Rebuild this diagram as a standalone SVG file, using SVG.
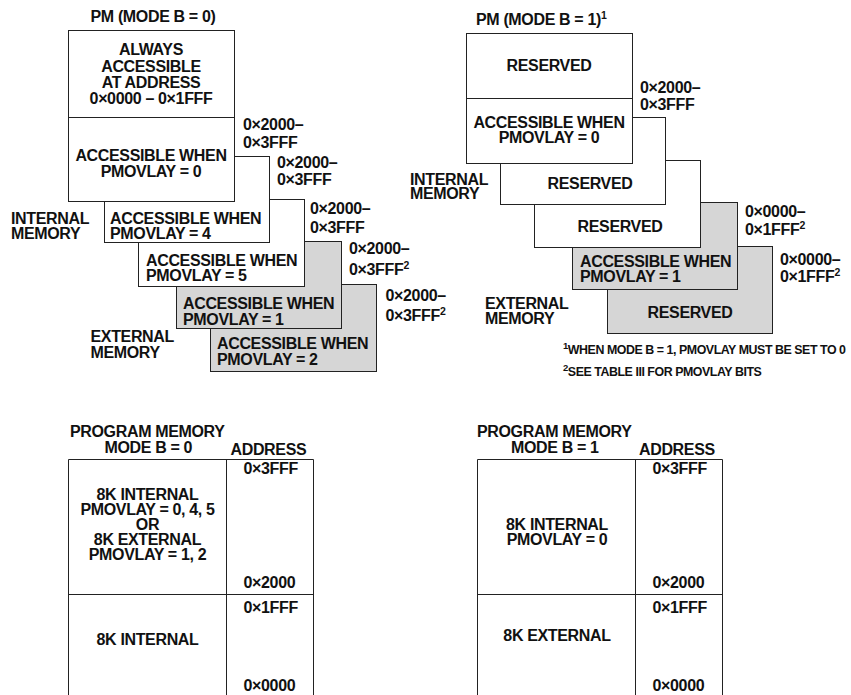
<svg xmlns="http://www.w3.org/2000/svg" width="851" height="695" viewBox="0 0 851 695">
<style>
text{font-family:"Liberation Sans",Arial,Helvetica,sans-serif;font-weight:bold;font-size:16px;letter-spacing:-0.35px;fill:#111}
.c{text-anchor:middle}
.fn{font-size:12.4px;letter-spacing:-0.45px}
.sup{font-size:10.5px}
.box{fill:#fff;stroke:#222;stroke-width:1}
.gray{fill:#d6d6d6;stroke:#222;stroke-width:1}
.ln{fill:none;stroke:#222;stroke-width:1}
</style>
<rect width="851" height="695" fill="#fff"/>

<!-- Left: PM (MODE B = 0) -->
<text class="c" x="153" y="21.5">PM (MODE B = 0)</text>
<g id="l5"><rect class="gray" x="210.5" y="284.5" width="166" height="87"/>
<text x="217" y="348.5">ACCESSIBLE WHEN</text><text x="217" y="364.5">PMOVLAY = 2</text></g>
<g id="l4"><rect class="gray" x="176.5" y="241.5" width="165" height="87"/>
<text x="183" y="309">ACCESSIBLE WHEN</text><text x="183" y="324.5">PMOVLAY = 1</text></g>
<g id="l3"><rect class="box" x="138.5" y="199.5" width="166" height="87"/>
<text x="146" y="266">ACCESSIBLE WHEN</text><text x="146" y="281">PMOVLAY = 5</text></g>
<g id="l2"><rect class="box" x="104.5" y="156.5" width="165" height="86"/>
<text x="110" y="223.5">ACCESSIBLE WHEN</text><text x="110" y="238.5">PMOVLAY = 4</text></g>
<g id="l1"><rect class="box" x="68.5" y="117.5" width="166" height="84"/>
<text class="c" x="151" y="161">ACCESSIBLE WHEN</text><text class="c" x="151" y="177">PMOVLAY = 0</text></g>
<g id="l0"><rect class="box" x="68.5" y="30.5" width="166" height="87"/>
<text class="c" x="151" y="55">ALWAYS</text><text class="c" x="151" y="71.5">ACCESSIBLE</text>
<text class="c" x="151" y="87.5">AT ADDRESS</text><text class="c" x="151" y="104">0×0000 – 0×1FFF</text></g>

<g id="l-labels">
<text x="243" y="130">0×2000–</text><text x="243" y="147.5">0×3FFF</text>
<text x="277" y="167.5">0×2000–</text><text x="277" y="185">0×3FFF</text>
<text x="310" y="213.5">0×2000–</text><text x="310" y="232.5">0×3FFF</text>
<text x="349" y="253.5">0×2000–</text><text x="349" y="274.5">0×3FFF<tspan class="sup" dy="-6">2</tspan></text>
<text x="385.5" y="301">0×2000–</text><text x="385.5" y="321">0×3FFF<tspan class="sup" dy="-6">2</tspan></text>
<text x="11" y="223.5">INTERNAL</text><text x="11" y="239">MEMORY</text>
<text x="90.5" y="341.5">EXTERNAL</text><text x="90.5" y="357.5">MEMORY</text>
</g>

<!-- Right: PM (MODE B = 1) -->
<text x="476" y="25">PM (MODE B = 1)<tspan class="sup" dy="-6">1</tspan></text>
<g id="r5"><rect class="gray" x="607.5" y="246.5" width="165" height="87"/>
<text class="c" x="690" y="317.5">RESERVED</text></g>
<g id="r4"><rect class="gray" x="572.5" y="202.5" width="165" height="87"/>
<text x="580" y="267">ACCESSIBLE WHEN</text><text x="580" y="282">PMOVLAY = 1</text></g>
<g id="r3"><rect class="box" x="534.5" y="160.5" width="166" height="87"/>
<text class="c" x="620" y="232">RESERVED</text></g>
<g id="r2"><rect class="box" x="500.5" y="117.5" width="165" height="87"/>
<text class="c" x="590" y="189">RESERVED</text></g>
<g id="r1"><rect class="box" x="466.5" y="98.5" width="166" height="65"/>
<text class="c" x="549" y="127.5">ACCESSIBLE WHEN</text><text class="c" x="549" y="143">PMOVLAY = 0</text></g>
<g id="r0"><rect class="box" x="466.5" y="33.5" width="166" height="65"/>
<text class="c" x="549" y="71">RESERVED</text></g>

<g id="r-labels">
<text x="640" y="92.5">0×2000–</text><text x="640" y="109.5">0×3FFF</text>
<text x="745" y="217">0×0000–</text><text x="745" y="235">0×1FFF<tspan class="sup" dy="-6">2</tspan></text>
<text x="780" y="265">0×0000–</text><text x="780" y="282">0×1FFF<tspan class="sup" dy="-6">2</tspan></text>
<text x="410" y="184.5">INTERNAL</text><text x="410" y="199">MEMORY</text>
<text x="485" y="308.5">EXTERNAL</text><text x="485" y="323.5">MEMORY</text>
<text class="fn" x="563" y="354"><tspan font-size="9.5" dy="-5">1</tspan><tspan dy="5">WHEN MODE B = 1, PMOVLAY MUST BE SET TO 0</tspan></text>
<text class="fn" x="563" y="375.5"><tspan font-size="9.5" dy="-5">2</tspan><tspan dy="5">SEE TABLE III FOR PMOVLAY  BITS</tspan></text>
</g>

<!-- Bottom-left table -->
<g id="tbl0">
<text x="70" y="436.5">PROGRAM MEMORY</text>
<text x="104.5" y="453">MODE B = 0</text>
<text x="230.5" y="454.5">ADDRESS</text>
<path class="ln" d="M68.5,700 V459.5 H313.5 V700 M226.5,459.5 V700 M68.5,594.5 H313.5"/>
<text x="243.5" y="473.5">0×3FFF</text>
<text x="243.5" y="587.5">0×2000</text>
<text x="243.5" y="612.5">0×1FFF</text>
<text x="243.5" y="690.5">0×0000</text>
<text class="c" x="147.5" y="500">8K INTERNAL</text>
<text class="c" x="147.5" y="515">PMOVLAY = 0, 4, 5</text>
<text class="c" x="147.5" y="530">OR</text>
<text class="c" x="147.5" y="545">8K EXTERNAL</text>
<text class="c" x="147.5" y="560">PMOVLAY = 1, 2</text>
<text class="c" x="147.5" y="645">8K INTERNAL</text>
</g>

<!-- Bottom-right table -->
<g id="tbl1">
<text x="477" y="436.5">PROGRAM MEMORY</text>
<text x="511" y="453">MODE B = 1</text>
<text x="639" y="454.5">ADDRESS</text>
<path class="ln" d="M477.5,700 V459.5 H722.5 V700 M635.5,459.5 V700 M477.5,594.5 H722.5"/>
<text x="652.5" y="473.5">0×3FFF</text>
<text x="652.5" y="587.5">0×2000</text>
<text x="652.5" y="612.5">0×1FFF</text>
<text x="652.5" y="690.5">0×0000</text>
<text class="c" x="557" y="530">8K INTERNAL</text>
<text class="c" x="557" y="545">PMOVLAY = 0</text>
<text class="c" x="557" y="641">8K EXTERNAL</text>
</g>
</svg>
